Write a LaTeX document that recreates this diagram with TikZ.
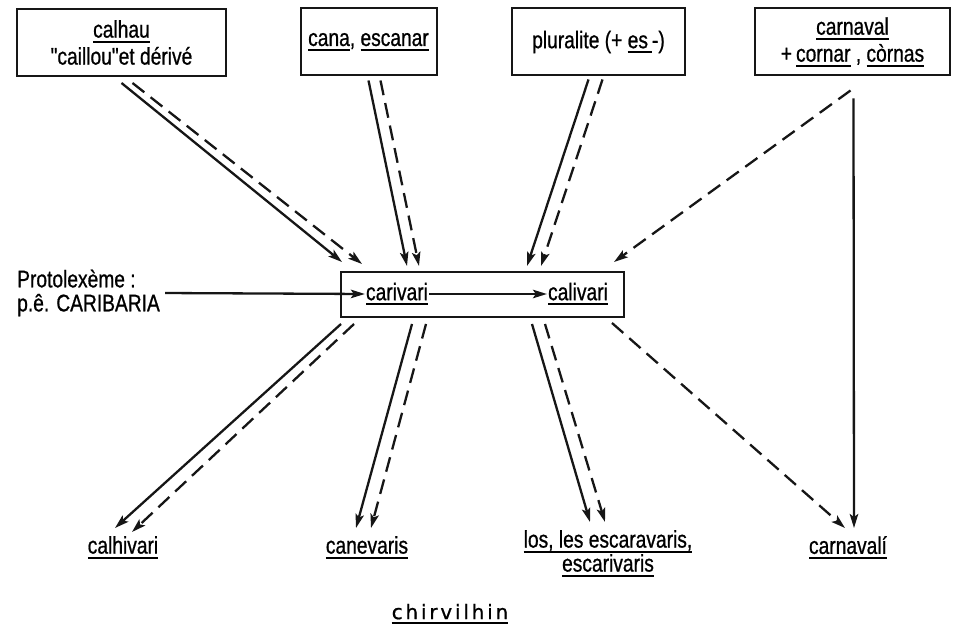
\documentclass[tikz,border=0pt]{standalone}
\usepackage{fontspec}
\setmainfont{Liberation Sans}[FakeStretch=0.8, FakeBold=0.8]
\newfontfamily\quotefont{Liberation Sans}[FakeStretch=0.8, FakeBold=0.8]
\newfontfamily\chirfont{DejaVu Sans}[LetterSpace=14, FakeBold=0.8]
\usepackage{xcolor}
\usepackage{tikz}
\usetikzlibrary{arrows.meta, positioning, calc}
\definecolor{CarInk}{RGB}{22, 22, 22}
\newcommand{\ulw}[1]{\setbox0\hbox{#1}\leavevmode\rlap{\vrule height -3.2pt depth 5pt width \wd0}\box0\relax}

\tikzset{
  srcbox/.style={draw=CarInk, line width=2pt, minimum height=67pt,
    inner sep=2pt, align=center, font=\fontsize{24}{27}\selectfont},
  wordnode/.style={inner sep=1pt, align=center, font=\fontsize{24}{24}\selectfont},
  plainarr/.style={draw=CarInk, line width=2.3pt, -{Stealth[length=14pt,width=8.5pt,inset=3pt]}},
  dasharr/.style={plainarr, dash pattern=on 15pt off 8pt}
}

\begin{document}
\begin{tikzpicture}[x=1pt, y=-1pt]
    \fill[white] (0,0) rectangle (956,628);
    \useasboundingbox (0,0) rectangle (956,628);

    % sources
    \node[srcbox, minimum width=209pt] (calhau) at (121.5,42.5) {\ulw{calhau}\\{\quotefont"}caillou{\quotefont"}et dérivé};
    \node[srcbox, minimum width=136pt] (cana) at (368.5,42) {\ulw{cana}, \ulw{escanar}};
    \node[srcbox, minimum width=173pt] (plural) at (598.5,42) {pluralite (+ \ulw{es\,}-)};
    \node[srcbox, minimum width=195pt] (carnaval) at (852.5,42) {\ulw{carnaval}\\+\,\ulw{cornar} , \ulw{còrnas}};

    % centre
    \node[draw=CarInk, line width=2pt, minimum width=283pt, minimum height=45pt] (midbox) at (482.5,294.5) {};
    \node[wordnode] (carivari) at (397,294) {\ulw{carivari}};
    \node[wordnode] (calivari) at (578,294) {\ulw{calivari}};
    \node[wordnode, anchor=west, align=left] (proto) at (16,293) {Protolexème :\\p.ê. CARIBARIA};

    % results
    \node[wordnode, anchor=north] (calhivari) at (123,535) {\ulw{calhivari}};
    \node[wordnode, anchor=north] (canevaris) at (367,535) {\ulw{canevaris}};
    \node[wordnode, anchor=north] (escar) at (608,529) {\ulw{los, les escaravaris,}\\\ulw{escarivaris}};
    \node[wordnode, anchor=north] (carnavali) at (848,535) {\ulw{carnavalí}};
    \node[inner sep=1pt, font=\chirfont\fontsize{20}{24}\selectfont] (chir) at (450,614) {\ulw{chirvilhin}};

    % into the box
    \draw[plainarr] ([yshift=-6pt]calhau.south) -- ([xshift=2pt,yshift=9pt]midbox.north west);
    \draw[dasharr] ([xshift=11pt,yshift=-6pt]calhau.south) -- ([xshift=22pt,yshift=7pt]midbox.north west);
    \draw[plainarr] ([yshift=-4pt]cana.south) -- ([xshift=67pt,yshift=5pt]midbox.north west);
    \draw[dasharr] ([xshift=12pt,yshift=-4pt]cana.south) -- ([xshift=79pt,yshift=5pt]midbox.north west);
    \draw[plainarr] ([xshift=-10pt,yshift=-3pt]plural.south) -- ([xshift=187pt,yshift=5pt]midbox.north west);
    \draw[dasharr] ([xshift=4pt,yshift=-3pt]plural.south) -- ([xshift=201pt,yshift=5pt]midbox.north west);
    \draw[dasharr] ([xshift=-2pt,yshift=-14pt]carnaval.south) -- ([xshift=274pt,yshift=9pt]midbox.north west);

    \draw[plainarr, shorten <=4pt] (proto.east) -- (carivari.west);
    \draw[plainarr] (carivari) -- (calivari);

    % out of the box
    \draw[plainarr] ([xshift=1pt,yshift=-6pt]midbox.south west) -- ([xshift=-8pt,yshift=7pt]calhivari.north);
    \draw[dasharr] ([xshift=14pt,yshift=-6pt]midbox.south west) -- ([xshift=9pt,yshift=3pt]calhivari.north);
    \draw[plainarr] ([xshift=72pt,yshift=-6pt]midbox.south west) -- ([xshift=-11pt,yshift=7pt]canevaris.north);
    \draw[dasharr] ([xshift=86pt,yshift=-6pt]midbox.south west) -- ([xshift=4pt,yshift=7pt]canevaris.north);
    \draw[plainarr] ([xshift=192pt,yshift=-6pt]midbox.south west) -- ([xshift=-18pt,yshift=7pt]escar.north);
    \draw[dasharr] ([xshift=205pt,yshift=-6pt]midbox.south west) -- ([xshift=-3pt,yshift=7pt]escar.north);
    \draw[dasharr] ([xshift=272pt,yshift=-5pt]midbox.south west) -- ([xshift=-3pt,yshift=7pt]carnavali.north);
    \draw[plainarr] ([xshift=1pt,yshift=-22pt]carnaval.south) -- ([xshift=6pt,yshift=7pt]carnavali.north);
\end{tikzpicture}
\end{document}
